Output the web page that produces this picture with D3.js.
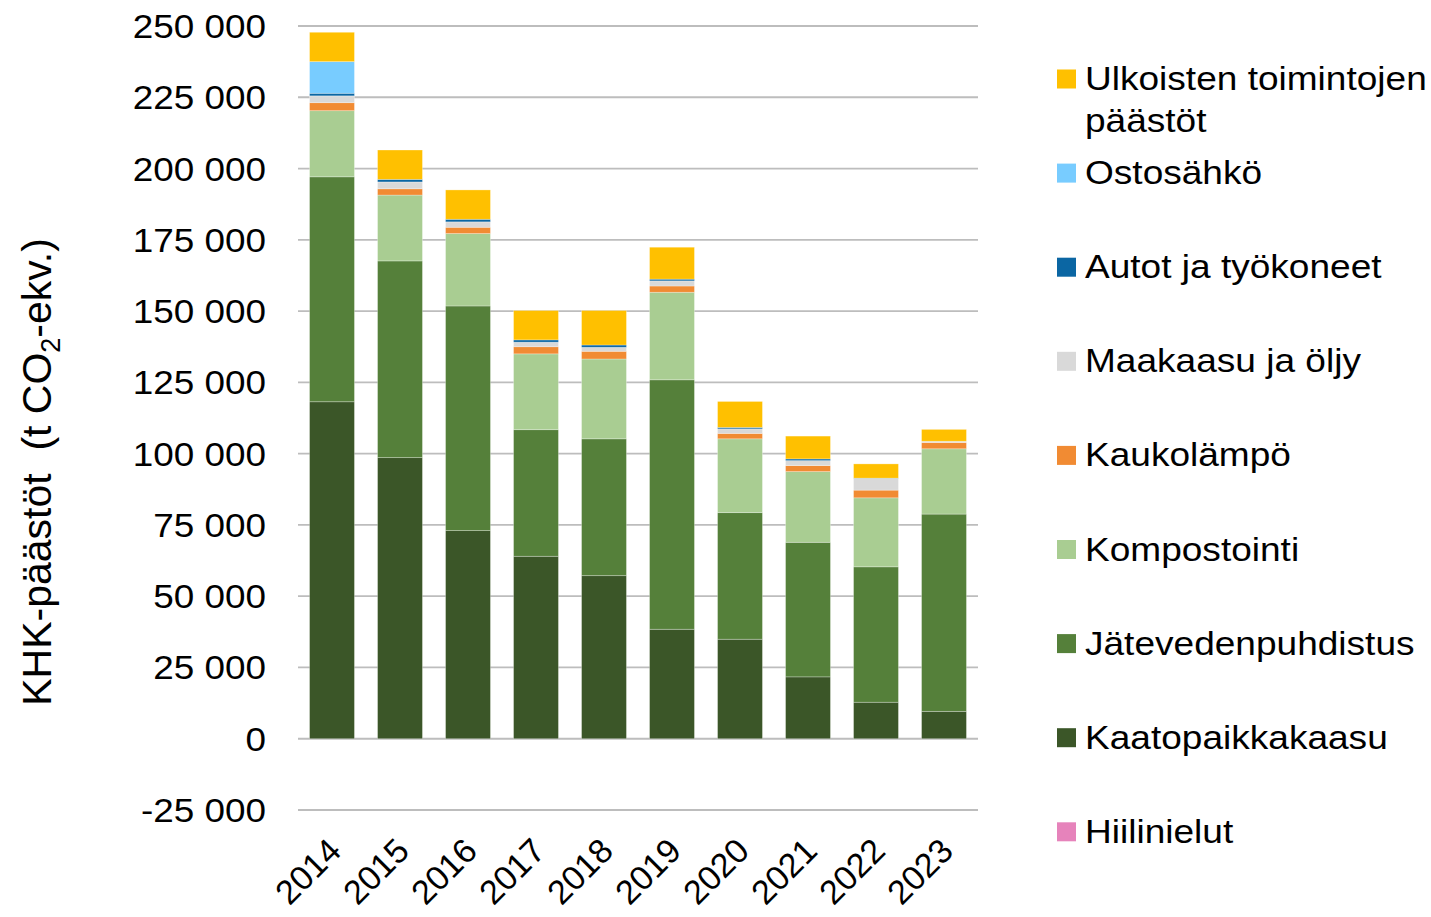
<!DOCTYPE html>
<html>
<head>
<meta charset="utf-8">
<script src="https://cdn.jsdelivr.net/npm/d3@7"></script>
<style>
  html, body { margin: 0; padding: 0; background: #fff; }
  svg { display: block; font-family: "Liberation Sans", Arial, sans-serif; }
</style>
</head>
<body>
<svg id="chart" width="1431" height="917"></svg>
<script>
// ---- Data ----
const years = ["2014","2015","2016","2017","2018","2019","2020","2021","2022","2023"];
const kaatopaikkakaasu   = [118200, 98600, 73000, 64000, 57200, 38400, 34900, 21700, 12800, 9600];
const jatevedenpuhdistus = [78900, 69000, 78800, 44400, 48000, 87500, 44400, 47200, 47500, 69200];
const kompostointi       = [23200, 23100, 25400, 26600, 28000, 30700, 25900, 24800, 24200, 22900];
const kaukolampo         = [2800, 2200, 2200, 2500, 2700, 2200, 1900, 2100, 2700, 2200];
const maakaasuJaOljy     = [2400, 2400, 1900, 1600, 1400, 1800, 1600, 1750, 4100, 450];
const autotJaTyokoneet   = [900, 900, 900, 800, 800, 600, 500, 600, 100, 0];
const ostosahko          = [11100, 0, 0, 0, 0, 0, 0, 0, 0, 0];
const ulkoistenToiminnot = [10300, 10300, 10300, 10300, 12100, 11200, 9100, 8000, 5000, 4150];
const hiilinielut        = [0, 0, 0, 0, 0, 0, 0, 0, 0, 0];
const yTicks = [-25000, 0, 25000, 50000, 75000, 100000, 125000, 150000, 175000, 200000, 225000, 250000];

// series bottom -> top
const seriesDefs = [
  { key: "Kaatopaikkakaasu", values: kaatopaikkakaasu, color: "#3B5628" },
  { key: "Jätevedenpuhdistus", values: jatevedenpuhdistus, color: "#55803A" },
  { key: "Kompostointi", values: kompostointi, color: "#A9CD92" },
  { key: "Kaukolämpö", values: kaukolampo, color: "#F18B33" },
  { key: "Maakaasu ja öljy", values: maakaasuJaOljy, color: "#D9D9D9" },
  { key: "Autot ja työkoneet", values: autotJaTyokoneet, color: "#0B66A3" },
  { key: "Ostosähkö", values: ostosahko, color: "#78CCFF" },
  { key: "Ulkoisten toimintojen päästöt", values: ulkoistenToiminnot, color: "#FFC000" },
  { key: "Hiilinielut", values: hiilinielut, color: "#E683BB" }
];
// legend order top -> bottom
const legendOrder = [
  { lines: ["Ulkoisten toimintojen", "päästöt"], color: "#FFC000" },
  { lines: ["Ostosähkö"], color: "#78CCFF" },
  { lines: ["Autot ja työkoneet"], color: "#0B66A3" },
  { lines: ["Maakaasu ja öljy"], color: "#D9D9D9" },
  { lines: ["Kaukolämpö"], color: "#F18B33" },
  { lines: ["Kompostointi"], color: "#A9CD92" },
  { lines: ["Jätevedenpuhdistus"], color: "#55803A" },
  { lines: ["Kaatopaikkakaasu"], color: "#3B5628" },
  { lines: ["Hiilinielut"], color: "#E683BB" }
];

// ---- Build table ----
const table = years.map((y, i) => {
  const row = { year: y };
  seriesDefs.forEach(s => row[s.key] = s.values[i]);
  return row;
});

const svg = d3.select("#chart");
const plotLeft = 298, plotRight = 978, plotTop = 26, plotBottom = 810;

const x = d3.scaleBand().domain(years).range([plotLeft, plotRight]).paddingInner(0.34).paddingOuter(0.17);
const y = d3.scaleLinear().domain([-25000, 250000]).range([plotBottom, plotTop]);

// gridlines
svg.append("g").selectAll("line").data(yTicks).join("line")
  .attr("x1", plotLeft).attr("x2", plotRight)
  .attr("y1", d => y(d)).attr("y2", d => y(d))
  .attr("stroke", "#BDBDBD").attr("stroke-width", 1.8);

// y tick labels
const fmt = v => {
  const s = d3.format(",")(Math.abs(v)).replace(/,/g, " ");
  return (v < 0 ? "-" : "") + s;
};
svg.append("g").selectAll("text").data(yTicks).join("text")
  .attr("transform", d => `translate(266,${y(d) + 12}) scale(1.085,1)`)
  .attr("text-anchor", "end")
  .attr("font-size", 34)
  .attr("fill", "#000")
  .text(fmt);

// stacked bars
const stack = d3.stack().keys(seriesDefs.map(s => s.key)).offset(d3.stackOffsetDiverging);
const stacked = stack(table);
const colorOf = Object.fromEntries(seriesDefs.map(s => [s.key, s.color]));

svg.append("g").selectAll("g").data(stacked).join("g")
  .attr("fill", d => colorOf[d.key])
  .selectAll("rect").data(d => d).join("rect")
  .attr("x", d => x(d.data.year))
  .attr("width", x.bandwidth())
  .attr("y", d => y(Math.max(d[0], d[1])))
  .attr("height", d => Math.abs(y(d[0]) - y(d[1])))
  .attr("stroke", "#ffffff").attr("stroke-opacity", 0.35).attr("stroke-width", 0.8);

// x labels
svg.append("g").selectAll("text").data(years).join("text")
  .attr("transform", d => `translate(${x(d) + x.bandwidth() / 2 + 11},853) rotate(-45)`)
  .attr("text-anchor", "end")
  .attr("font-size", 34)
  .attr("fill", "#000")
  .text(d => d);

// y axis title
const title = svg.append("text")
  .attr("transform", "translate(51,472) rotate(-90)")
  .attr("text-anchor", "middle")
  .attr("font-size", 41)
  .attr("fill", "#000");
title.append("tspan").text("KHK-päästöt\u00A0\u00A0(t CO");
title.append("tspan").attr("font-size", 27).attr("dy", 9).text("2");
title.append("tspan").attr("dy", -9).text("-ekv.)");

// legend
const lg = svg.append("g");
legendOrder.forEach((item, i) => {
  const cy = 79 + i * 94.1;
  lg.append("rect").attr("x", 1057).attr("y", cy - 9.5).attr("width", 19).attr("height", 19).attr("fill", item.color);
  item.lines.forEach((ln, j) => {
    lg.append("text")
      .attr("transform", `translate(1085,${cy + 11 + j * 42}) scale(1.09,1)`)
      .attr("font-size", 34)
      .attr("fill", "#000")
      .text(ln);
  });
});
</script>
</body>
</html>
